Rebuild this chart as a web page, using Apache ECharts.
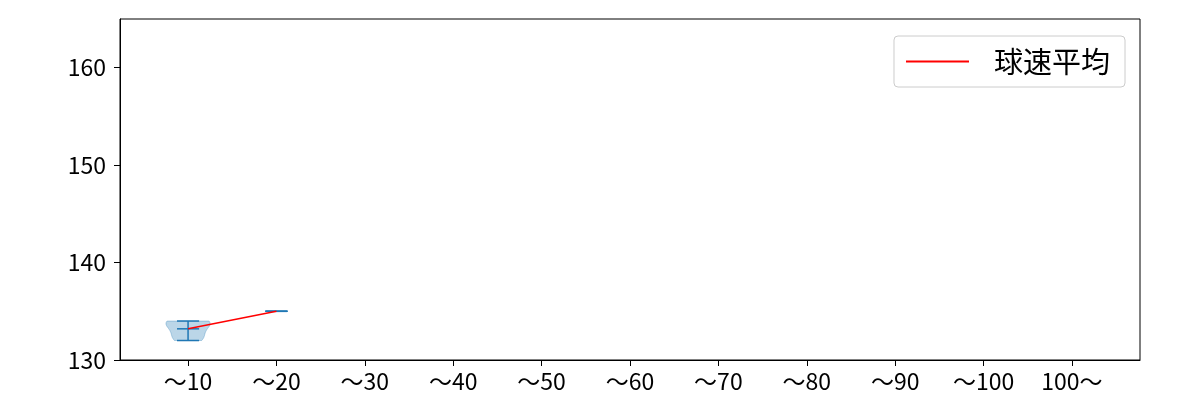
<!DOCTYPE html>
<html><head><meta charset="utf-8">
<script src="https://cdn.jsdelivr.net/npm/echarts@6/dist/echarts.min.js"></script>
<style>html,body{margin:0;padding:0;background:#fff}#c{width:1200px;height:400px}</style>
</head><body><div id="c"></div>
<script>
const categories = ['～10','～20','～30','～40','～50','～60','～70','～80','～90','～100','100～'];
const speedsCat0 = [132, 132.5, 133.5, 134, 134];
const speedsCat1 = [135];
const speedsByCategory = [speedsCat0, speedsCat1, [], [], [], [], [], [], [], [], []];
const meanSpeed = [133.2, 135, null, null, null, null, null, null, null, null, null];
const yTicks = [130, 140, 150, 160];

const FONT = '"Noto Sans CJK JP", "Noto Sans", sans-serif';
const BLUE = '#1f77b4';
const catIndex = categories.map((c, i) => i);

function kdeOutline(vals) {
  const n = vals.length;
  const m = vals.reduce((a, b) => a + b, 0) / n;
  const sd = Math.sqrt(vals.reduce((a, b) => a + (b - m) * (b - m), 0) / (n - 1));
  const bw = sd * Math.pow(n, -0.2);
  const mn = Math.min(...vals), mx = Math.max(...vals);
  const out = [];
  const steps = 80;
  for (let k = 0; k <= steps; k++) {
    const y = mn + (mx - mn) * k / steps;
    let d = 0;
    vals.forEach(v => { const z = (y - v) / bw; d += Math.exp(-0.5 * z * z); });
    out.push([y, d]);
  }
  return out;
}

const chart = echarts.init(document.getElementById('c'), null, {renderer: 'canvas'});
chart.setOption({
  animation: false,
  backgroundColor: '#fff',
  grid: {left: 120, right: 60, top: 19, bottom: 40, show: true, borderColor: '#000', borderWidth: 1, backgroundColor: 'transparent'},
  xAxis: {
    type: 'value', min: -0.77, max: 10.77,
    splitLine: {show: false},
    axisLine: {onZero: false, lineStyle: {color: '#000', width: 1}},
    axisTick: {customValues: catIndex, length: 6, lineStyle: {color: '#000'}},
    axisLabel: {customValues: catIndex, formatter: v => categories[Math.round(v)], color: '#000', fontSize: 23, fontFamily: FONT, margin: 10}
  },
  yAxis: {
    type: 'value', min: 130, max: 165,
    splitLine: {show: false},
    axisLine: {show: true, onZero: false, lineStyle: {color: '#000', width: 1}},
    axisTick: {show: true, customValues: yTicks, length: 6, lineStyle: {color: '#000'}},
    axisLabel: {customValues: yTicks, color: '#000', fontSize: 23, fontFamily: FONT, margin: 14}
  },
  legend: {
    data: ['球速平均'], right: 75, top: 36,
    backgroundColor: '#fff', borderColor: '#cccccc', borderWidth: 1, borderRadius: 4,
    padding: [11, 15, 11, 12], itemWidth: 63, itemHeight: 2, icon: 'rect',
    textStyle: {fontSize: 29, fontFamily: FONT, color: '#000', padding: [0, 0, 0, 20]}
  },
  series: [
    {
      type: 'custom', name: 'violin', z: 2,
      data: catIndex.map(i => [i]),
      renderItem: function (params, api) {
        const i = api.value(0);
        const vals = speedsByCategory[i];
        if (!vals || !vals.length) return;
        const children = [];
        const mn = Math.min(...vals), mx = Math.max(...vals);
        if (vals.length > 1) {
          const pts = kdeOutline(vals);
          const dmax = Math.max(...pts.map(p => p[1]));
          const right = pts.map(p => api.coord([i + 0.25 * p[1] / dmax, p[0]]));
          const left = pts.map(p => api.coord([i - 0.25 * p[1] / dmax, p[0]])).reverse();
          children.push({type: 'polygon', shape: {points: right.concat(left)}, style: {fill: 'rgba(31,119,180,0.3)', stroke: 'rgba(31,119,180,0.3)', lineWidth: 1}});
        }
        const ls = {stroke: BLUE, lineWidth: 1.5};
        const a = api.coord([i, mn]), b = api.coord([i, mx]);
        children.push({type: 'line', shape: {x1: a[0], y1: a[1], x2: b[0], y2: b[1]}, style: ls});
        [mn, mx, meanSpeed[i]].forEach(v => {
          const p = api.coord([i - 0.125, v]), q = api.coord([i + 0.125, v]);
          children.push({type: 'line', shape: {x1: p[0], y1: p[1], x2: q[0], y2: q[1]}, style: ls});
        });
        return {type: 'group', children};
      }
    },
    {
      type: 'line', name: '球速平均', z: 3,
      data: catIndex.map(i => [i, meanSpeed[i]]),
      showSymbol: false, symbol: 'none', connectNulls: false,
      lineStyle: {color: '#ff0000', width: 1.6},
      itemStyle: {color: '#ff0000'}
    }
  ]
});
</script></body></html>
